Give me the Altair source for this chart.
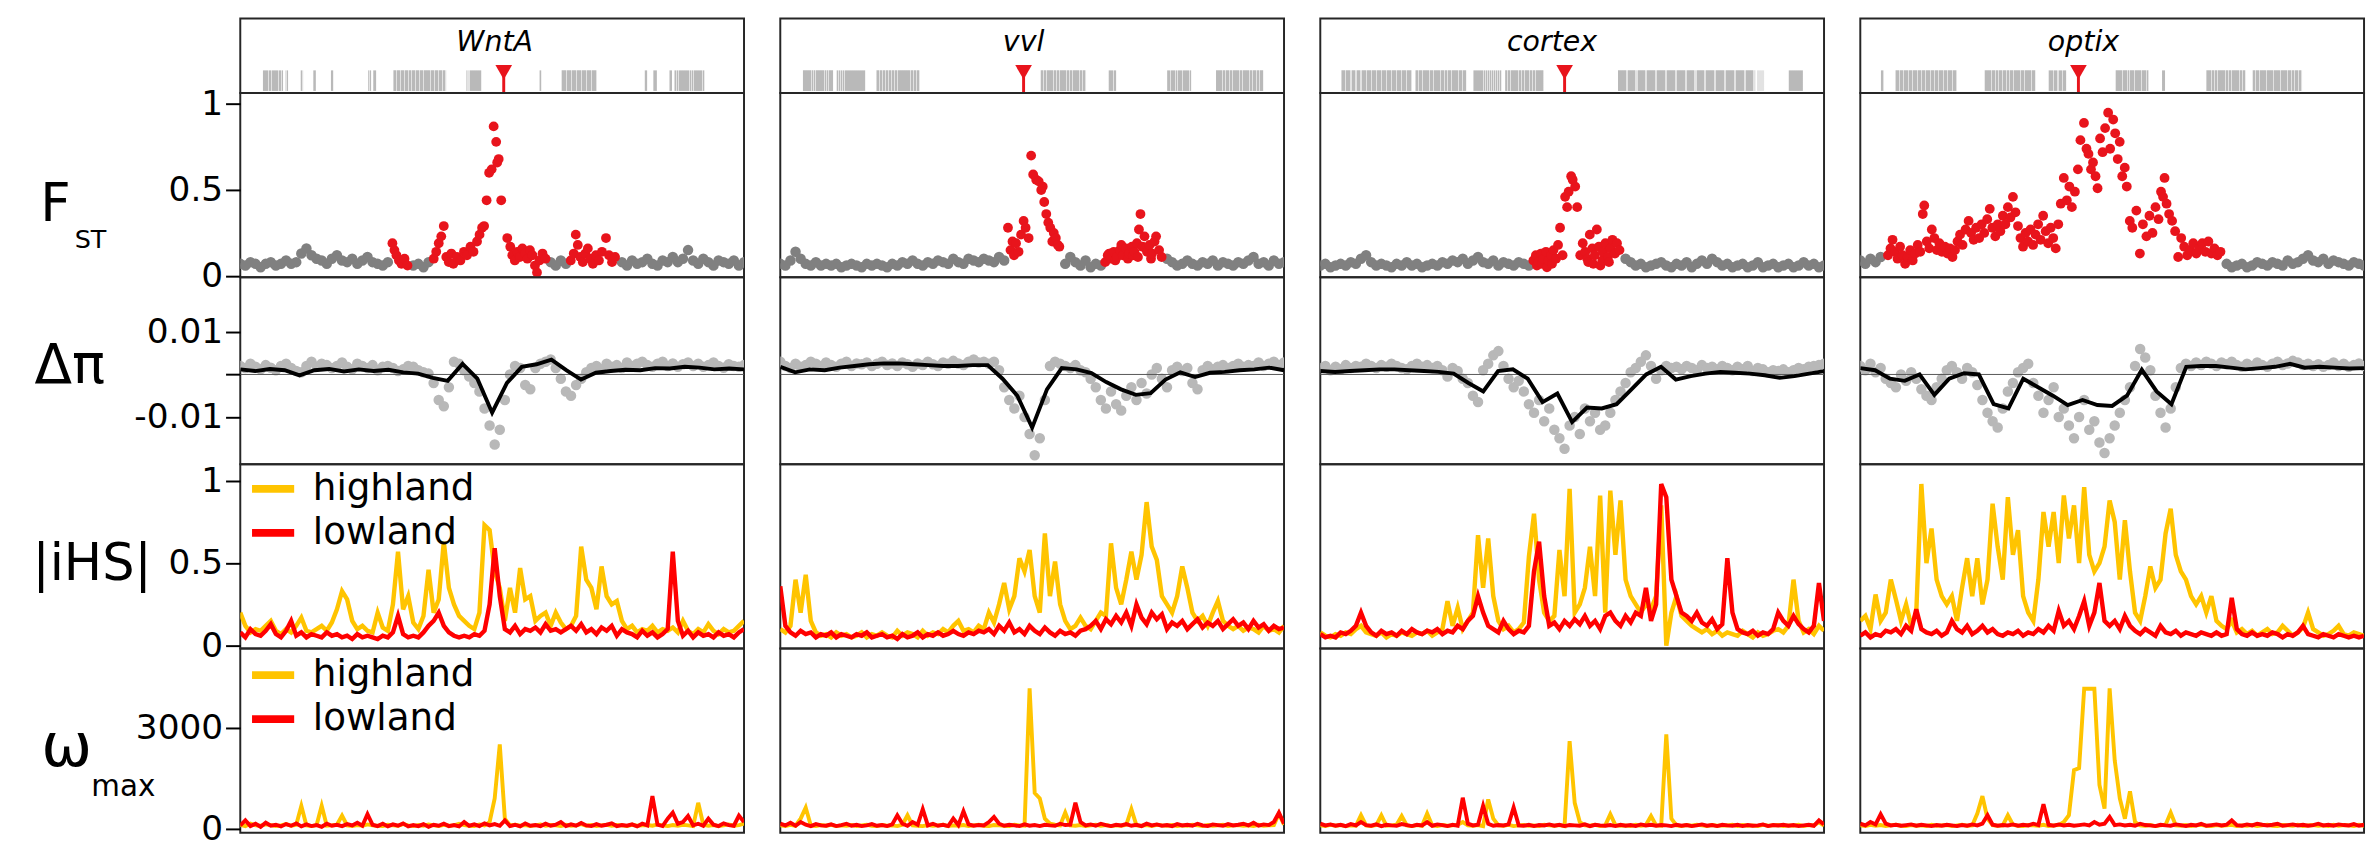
import altair as alt
import pandas as pd

# ---------------------------------------------------------------- data
GENES = ["WntA", "vvl", "cortex", "optix"]
GENE_POS = [52.3, 48.3, 48.5, 43.3]      # red marker position (% of window)
LABEL_POS = [50.5, 48.3, 46.0, 44.3]     # gene name position (% of window)

TRACKS_WNTA = [(4.5, 8.5), (9.0, 9.5), (12.0, 12.5), (14.5, 15.0), (18.0, 18.5), (25.4, 26.0), (26.4, 27.0),
               (30.4, 40.9), (44.9, 47.9), (59.3, 59.8), (63.8, 70.8), (80.3, 80.8), (82.0, 82.7), (85.2, 85.7), (86.2, 92.2)]
TRACKS_VVL = [(4.5, 10.5), (11.2, 16.9), (19.1, 27.7), (51.7, 60.7), (65.2, 66.7), (76.8, 81.6), (86.5, 95.9)]
TRACKS_CORTEX = [(4.2, 18.2), (18.9, 29.0), (30.4, 36.0), (36.7, 44.4), (59.1, 86.4), (86.7, 88.1), (93.0, 95.8)]
TRACKS_OPTIX = [(4.1, 4.7), (7.0, 19.2), (24.7, 34.8), (37.4, 40.9), (50.7, 57.3), (59.9, 60.5), (68.7, 76.5), (77.9, 87.7)]

# FST: grey windows on a regular grid, red (outlier) windows as (position, value)
FST_GREY_WNTA = [.07, .06, .08, .07, .05, .07, .08, .06, .07, .09,
                 .07, .08, .13, .16, .12, .10, .09, .07, .10, .12,
                 .09, .08, .10, .07, .09, .11, .08, .07, .06, .08,
                 .08, .07, .08, .07, .06, .07, .05, .08, .07, .08,
                 .08, .08, .08, .08, .08, .08, .08, .08, .08, .08,
                 .08, .08, .08, .08, .08, .08, .08, .08, .08, .08,
                 .07, .08, .06, .09, .07, .08, .08, .08, .08, .08,
                 .08, .08, .08, .08, .08, .08, .06, .09, .07, .08,
                 .10, .07, .06, .09, .08, .11, .08, .10, .15, .09,
                 .07, .10, .08, .06, .09, .08, .07, .09, .06, .08]
FST_GREY_VVL = [.07, .06, .09, .14, .10, .07, .06, .08, .06, .07,
                .06, .07, .05, .06, .07, .06, .05, .07, .06, .07,
                .06, .05, .07, .06, .08, .07, .09, .07, .06, .08,
                .07, .09, .08, .07, .10, .08, .07, .10, .09, .08,
                .10, .09, .08, .11, .09, .08, .08, .08, .08, .08,
                .08, .08, .08, .08, .08, .08, .07, .11, .08, .06,
                .09, .05, .07, .06, .08, .08, .08, .08, .08, .08,
                .08, .08, .08, .08, .08, .08, .10, .08, .06, .07,
                .09, .07, .06, .08, .07, .09, .06, .08, .07, .06,
                .08, .07, .09, .11, .07, .08, .06, .09, .07, .08]
FST_GREY_CORTEX = [.06, .07, .05, .06, .07, .06, .08, .07, .10, .12,
                   .08, .06, .07, .06, .05, .07, .06, .08, .06, .07,
                   .05, .06, .07, .06, .08, .07, .09, .08, .10, .07,
                   .09, .11, .08, .07, .09, .06, .08, .07, .06, .08,
                   .07, .06, .07, .07, .07, .07, .07, .07, .07, .07,
                   .07, .07, .07, .07, .07, .07, .07, .07, .07, .07,
                   .10, .08, .06, .07, .05, .06, .07, .08, .06, .05,
                   .07, .06, .08, .05, .07, .09, .07, .10, .08, .06,
                   .07, .05, .06, .07, .05, .06, .08, .05, .06, .07,
                   .05, .06, .07, .05, .06, .08, .06, .07, .05, .06]
FST_GREY_OPTIX = [.09, .07, .10, .08, .11, .08, .08, .08, .08, .08,
                  .08, .08, .08, .08, .08, .08, .08, .08, .08, .08,
                  .08, .08, .08, .08, .08, .08, .08, .08, .08, .08,
                  .08, .08, .08, .08, .08, .08, .08, .08, .08, .08,
                  .08, .08, .08, .08, .08, .08, .08, .08, .08, .08,
                  .08, .08, .08, .08, .08, .08, .08, .08, .08, .08,
                  .08, .08, .08, .08, .08, .08, .08, .08, .08, .08,
                  .08, .08, .07, .05, .06, .07, .05, .06, .08, .07,
                  .06, .08, .07, .06, .09, .07, .08, .10, .12, .09,
                  .08, .10, .07, .09, .08, .07, .06, .08, .07, .06]

RED_SPANS_WNTA = [(29.8, 33.6), (37.9, 61.2), (65.2, 74.9)]
RED_SPANS_VVL = [(44.6, 55.9), (64.0, 76.0)]
RED_SPANS_CORTEX = [(41.8, 59.8)]
RED_SPANS_OPTIX = [(5.0, 72.0)]

FST_RED_WNTA = [(30.2, .19), (30.6, .15), (31.0, .12), (31.5, .09), (32.0, .07), (32.6, .10), (33.2, .06),
                (38.4, .10), (38.9, .14), (39.4, .19), (39.9, .23), (40.4, .29), (40.9, .11), (41.4, .08), (41.9, .13),
                (42.3, .07), (43.0, .11), (43.7, .09), (44.4, .14), (45.0, .12), (45.7, .17), (46.3, .14), (47.0, .20),
                (47.5, .24), (48.0, .28), (48.4, .29), (48.9, .44), (49.4, .60), (49.9, .62), (50.3, .87), (50.8, .78),
                (51.0, .66), (51.3, .68), (51.8, .44), (53.0, .22), (53.6, .17), (54.0, .12), (54.5, .09), (55.0, .14),
                (55.5, .11), (56.0, .16), (56.5, .13), (57.0, .10), (57.5, .15), (58.0, .12), (58.5, .06), (58.9, .02),
                (59.4, .09), (60.0, .13), (60.6, .10), (65.6, .09), (66.2, .13), (66.6, .24), (67.0, .18), (67.5, .11),
                (68.0, .08), (68.5, .13), (69.0, .16), (69.5, .10), (70.0, .07), (70.6, .12), (71.2, .09), (71.8, .14),
                (72.6, .22), (73.2, .12), (73.8, .08), (74.4, .11)]
FST_RED_VVL = [(45.2, .28), (45.7, .15), (46.1, .20), (46.4, .12), (46.8, .19), (47.3, .14), (47.8, .24), (48.3, .32),
               (48.7, .28), (49.3, .22), (49.8, .70), (50.2, .59), (50.8, .56), (51.3, .55), (51.8, .50), (52.1, .52),
               (52.4, .43), (52.8, .36), (53.2, .31), (53.6, .28), (54.0, .20), (54.3, .25), (54.7, .22), (55.1, .18),
               (55.4, .17), (64.5, .08), (65.0, .12), (65.3, .13), (65.6, .10), (66.2, .14), (66.5, .09), (66.8, .11),
               (67.4, .15), (67.7, .18), (68.0, .12), (68.6, .16), (69.0, .10), (69.2, .13), (69.8, .17), (70.0, .12),
               (70.3, .14), (70.8, .19), (71.0, .11), (71.2, .27), (71.5, .36), (71.9, .17), (72.3, .23), (72.5, .16),
               (72.8, .14), (73.3, .18), (73.6, .10), (73.8, .13), (74.3, .20), (74.6, .23), (75.2, .15), (75.7, .11)]
FST_RED_CORTEX = [(42.3, .09), (42.8, .12), (43.0, .06), (43.3, .08), (43.8, .13), (44.0, .07), (44.3, .10), (44.8, .14),
                  (45.0, .05), (45.3, .09), (45.8, .12), (46.0, .07), (46.3, .15), (46.8, .10), (47.2, .18), (47.6, .28),
                  (48.1, .12), (48.6, .46), (49.0, .40), (49.3, .49), (49.8, .58), (50.1, .56), (50.6, .52), (51.0, .40),
                  (51.6, .12), (52.1, .19), (52.6, .14), (53.0, .10), (53.2, .08), (53.5, .24), (54.0, .16), (54.2, .07),
                  (54.5, .12), (54.9, .27), (55.3, .17), (55.6, .06), (56.0, .09), (56.1, .14), (56.6, .19), (57.1, .11),
                  (57.3, .08), (57.6, .16), (58.0, .21), (58.5, .13), (58.9, .19), (59.4, .15)]
FST_RED_OPTIX = [(5.5, .12), (6.0, .16), (6.4, .21), (6.9, .14), (7.4, .10), (7.9, .17), (8.4, .12), (8.9, .07),
                 (9.4, .11), (9.9, .15), (10.4, .09), (10.9, .13), (11.4, .18), (11.9, .14), (12.4, .36), (12.7, .41),
                 (13.2, .20), (13.7, .16), (14.2, .27), (14.7, .22), (15.2, .15), (15.7, .19), (16.2, .14), (16.8, .17),
                 (17.3, .13), (17.8, .16), (18.3, .11), (18.8, .15), (19.3, .20), (19.8, .24), (20.3, .18), (20.9, .27),
                 (21.5, .32), (22.0, .25), (22.5, .21), (23.0, .28), (23.6, .22), (24.1, .30), (24.6, .25), (25.2, .33),
                 (25.7, .39), (26.2, .28), (26.8, .23), (27.3, .30), (27.8, .26), (28.3, .35), (28.8, .30), (29.3, .40),
                 (29.8, .34), (30.3, .46), (30.8, .37), (31.3, .29), (31.8, .22), (32.3, .17), (32.8, .25), (33.3, .20),
                 (33.8, .27), (34.3, .18), (34.8, .24), (35.3, .30), (35.8, .21), (36.3, .35), (36.8, .26), (37.3, .19),
                 (37.8, .28), (38.3, .22), (38.8, .16), (39.3, .30), (39.8, .42), (40.4, .57), (41.0, .44), (41.5, .52),
                 (42.0, .40), (42.6, .49), (43.2, .62), (43.7, .79), (44.4, .89), (44.9, .74), (45.3, .71), (45.8, .62),
                 (46.2, .66), (46.7, .58), (47.1, .51), (47.6, .80), (48.1, .72), (48.6, .86), (49.2, .95), (49.6, .74),
                 (50.2, .91), (50.6, .83), (51.1, .68), (51.5, .78), (52.0, .58), (52.5, .63), (52.9, .52), (53.5, .32),
                 (54.0, .28), (54.8, .38), (55.5, .13), (56.1, .30), (56.8, .23), (57.4, .35), (58.0, .25), (58.6, .40),
                 (59.2, .33), (59.7, .49), (60.1, .46), (60.4, .57), (60.8, .42), (61.3, .36), (61.9, .32), (62.5, .26),
                 (63.1, .11), (63.7, .22), (64.3, .17), (64.9, .12), (65.5, .15), (66.1, .19), (66.7, .13), (67.3, .16),
                 (67.9, .19), (68.5, .14), (69.1, .20), (69.7, .13), (70.3, .16), (70.9, .12), (71.5, .14)]

# delta pi: windows (grey) and smoothed line (black)
DPI_GREY_WNTA = [.0020, .0015, .0025, .0018, .0012, .0022, .0016, .0010, .0020, .0025,
                 .0015, .0008, .0005, .0020, .0030, .0018, .0025, .0022, .0015, .0020,
                 .0028, .0018, .0012, .0025, .0020, .0015, .0022, .0010, .0018, .0020,
                 .0015, .0008, .0012, .0020, .0018, .0010, .0005, .0002, -.0020, -.0060,
                 -.0075, -.0030, .0030, .0025, .0010, -.0005, -.0020, -.0040, -.0080, -.0120,
                 -.0165, -.0130, -.0060, .0000, .0020, .0015, -.0025, -.0035, .0015, .0025,
                 .0030, .0035, .0015, -.0010, -.0040, -.0050, -.0025, -.0010, .0005, .0015,
                 .0020, .0012, .0025, .0018, .0022, .0015, .0028, .0020, .0025, .0030,
                 .0022, .0018, .0025, .0030, .0020, .0026, .0018, .0024, .0028, .0020,
                 .0025, .0018, .0022, .0028, .0020, .0016, .0024, .0020, .0018, .0022]
DPI_GREY_VVL = [.0030, .0020, .0015, .0025, .0018, .0022, .0030, .0025, .0020, .0028,
                .0022, .0018, .0025, .0030, .0020, .0026, .0024, .0028, .0020, .0025,
                .0030, .0022, .0026, .0020, .0028, .0024, .0018, .0026, .0022, .0030,
                .0024, .0020, .0028, .0025, .0032, .0026, .0022, .0030, .0035, .0028,
                .0030, .0025, .0030, .0010, -.0030, -.0060, -.0080, -.0050, -.0100, -.0140,
                -.0190, -.0150, -.0060, .0020, .0030, .0025, .0020, .0015, .0022, .0010,
                .0005, -.0010, -.0030, -.0060, -.0080, -.0040, -.0070, -.0085, -.0050, -.0030,
                -.0060, -.0020, -.0045, .0000, .0015, -.0010, -.0030, .0010, .0018, .0008,
                .0015, -.0020, -.0035, .0010, .0020, .0012, .0018, .0022, .0015, .0020,
                .0025, .0018, .0022, .0020, .0028, .0020, .0025, .0030, .0022, .0028]
DPI_GREY_CORTEX = [.0015, .0020, .0010, .0018, .0012, .0022, .0015, .0020, .0018, .0025,
                   .0020, .0015, .0022, .0018, .0025, .0020, .0015, .0012, .0020, .0025,
                   .0018, .0022, .0015, .0020, .0010, -.0005, .0015, .0008, -.0010, -.0020,
                   -.0050, -.0065, .0010, .0025, .0045, .0055, .0020, -.0010, -.0030, -.0015,
                   -.0040, -.0070, -.0090, -.0060, -.0110, -.0080, -.0130, -.0150, -.0175, -.0120,
                   -.0100, -.0140, -.0080, -.0110, -.0090, -.0130, -.0120, -.0090, -.0060, -.0040,
                   -.0020, .0005, .0015, .0030, .0045, .0020, -.0010, .0010, .0020, .0015,
                   .0018, .0012, .0020, .0015, .0010, .0022, .0015, .0018, .0012, .0020,
                   .0015, .0010, .0018, .0012, .0020, .0008, .0015, .0012, .0005, .0010,
                   .0008, .0012, .0005, .0010, .0015, .0012, .0018, .0020, .0022, .0025]
DPI_GREY_OPTIX = [.0020, .0010, .0025, .0005, .0015, -.0010, -.0020, -.0030, .0000, -.0015,
                  .0005, -.0010, -.0035, -.0050, -.0060, -.0030, -.0010, .0010, .0020, .0005,
                  -.0010, .0015, .0005, -.0025, -.0060, -.0090, -.0110, -.0125, -.0080, -.0040,
                  -.0020, .0005, .0015, .0025, -.0020, -.0050, -.0090, -.0060, -.0030, -.0100,
                  -.0080, -.0120, -.0150, -.0100, -.0060, -.0130, -.0110, -.0160, -.0185, -.0150,
                  -.0120, -.0090, -.0060, -.0030, .0020, .0060, .0040, .0010, -.0050, -.0090,
                  -.0125, -.0080, -.0030, .0015, .0025, .0020, .0028, .0022, .0030, .0025,
                  .0020, .0028, .0024, .0030, .0022, .0018, .0025, .0020, .0028, .0022,
                  .0018, .0025, .0030, .0022, .0026, .0032, .0028, .0022, .0025, .0020,
                  .0024, .0018, .0022, .0028, .0020, .0025, .0018, .0022, .0026, .0020]

DPI_LINE_WNTA = [.0012, .0008, .0013, .0010, -.0002, .0010, .0013, .0007, .0012, .0008, .0011, .0005,
                 .0002, -.0008, -.0015, .0025, -.0010, -.0090, -.0020, .0018, .0024, .0035, .0010, -.0012,
                 .0004, .0008, .0011, .0010, .0015, .0014, .0018, .0016, .0012, .0014, .0012]
DPI_LINE_VVL = [.0018, .0005, .0012, .0010, .0016, .0020, .0024, .0026, .0026, .0024, .0022, .0020,
                .0020, .0022, .0022, -.0010, -.0050, -.0125, -.0035, .0015, .0012, .0003, -.0018, -.0035,
                -.0048, -.0044, -.0012, .0005, -.0006, .0004, .0006, .0010, .0012, .0016, .0010]
DPI_LINE_CORTEX = [.0008, .0006, .0008, .0010, .0012, .0012, .0010, .0008, .0006, .0002, -.0020, -.0040,
                   .0008, .0012, -.0010, -.0065, -.0045, -.0112, -.0078, -.0080, -.0070, -.0035, .0000, .0018,
                   -.0012, -.0004, .0002, .0006, .0004, .0002, -.0002, -.0008, -.0004, .0002, .0008]
DPI_LINE_OPTIX = [.0015, .0010, -.0010, -.0015, .0000, -.0048, -.0010, .0003, .0000, -.0070, -.0080, -.0010,
                  -.0030, -.0050, -.0072, -.0060, -.0072, -.0074, -.0050, .0011, -.0040, -.0070, .0018, .0020,
                  .0020, .0016, .0012, .0015, .0018, .0025, .0016, .0018, .0016, .0014, .0015]

# |iHS|
IHS_HIGH_WNTA = [.20, .12, .08, .10, .09, .12, .15, .09, .07, .10,
                 .08, .12, .17, .09, .08, .10, .12, .09, .14, .22,
                 .33, .28, .15, .10, .12, .09, .08, .20, .11, .09,
                 .25, .57, .22, .30, .14, .10, .18, .46, .20, .28,
                 .63, .35, .25, .18, .15, .12, .10, .20, .73, .70,
                 .45, .35, .15, .35, .20, .47, .28, .30, .15, .18,
                 .20, .12, .20, .14, .10, .12, .18, .60, .40, .35,
                 .22, .48, .30, .25, .27, .15, .10, .12, .08, .10,
                 .09, .12, .08, .10, .09, .11, .08, .15, .09, .07,
                 .10, .08, .13, .09, .07, .10, .08, .09, .12, .15]
IHS_LOW_WNTA = [.08, .05, .10, .07, .06, .09, .13, .07, .05, .09,
                .15, .06, .08, .05, .07, .06, .05, .08, .06, .07,
                .05, .06, .04, .07, .05, .06, .05, .04, .06, .05,
                .08, .18, .07, .05, .06, .05, .08, .12, .15, .20,
                .12, .08, .06, .05, .06, .05, .07, .06, .09, .25,
                .59, .30, .10, .08, .12, .07, .10, .09, .11, .08,
                .13, .09, .10, .08, .10, .12, .09, .13, .08, .10,
                .07, .11, .09, .12, .06, .10, .08, .07, .05, .09,
                .06, .08, .05, .07, .10, .57, .15, .06, .09, .05,
                .08, .06, .07, .05, .08, .06, .07, .05, .08, .10]
IHS_HIGH_VVL = [.10, .08, .12, .40, .20, .43, .15, .08, .06, .07,
                .05, .08, .06, .07, .05, .06, .08, .05, .07, .06,
                .08, .06, .05, .09, .06, .08, .07, .05, .09, .06,
                .08, .07, .10, .08, .12, .15, .09, .10, .08, .12,
                .10, .20, .14, .25, .38, .22, .30, .53, .45, .58,
                .30, .20, .68, .30, .51, .25, .15, .10, .12, .17,
                .12, .10, .15, .20, .18, .62, .35, .25, .40, .57,
                .40, .55, .87, .60, .52, .30, .25, .20, .30, .48,
                .35, .20, .15, .18, .12, .20, .27, .15, .12, .10,
                .12, .09, .11, .10, .08, .12, .09, .10, .08, .12]
IHS_LOW_VVL = [.36, .12, .08, .06, .09, .07, .08, .05, .07, .06,
               .08, .05, .07, .06, .05, .07, .06, .08, .05, .06,
               .07, .05, .06, .04, .07, .05, .06, .08, .05, .07,
               .06, .08, .06, .07, .09, .07, .06, .08, .07, .09,
               .08, .10, .07, .12, .09, .14, .08, .10, .07, .12,
               .09, .07, .11, .08, .06, .09, .07, .08, .06, .09,
               .10, .12, .15, .10, .16, .13, .18, .14, .20, .12,
               .25, .17, .13, .20, .16, .19, .10, .14, .12, .15,
               .10, .13, .16, .11, .14, .12, .15, .10, .13, .16,
               .12, .14, .10, .15, .11, .13, .09, .12, .10, .11]
IHS_HIGH_CORTEX = [.08, .06, .05, .07, .06, .08, .07, .10, .12, .08,
                   .07, .06, .08, .05, .07, .06, .08, .07, .06, .08,
                   .07, .09, .06, .08, .10, .27, .12, .23, .10, .15,
                   .20, .67, .35, .65, .30, .15, .10, .12, .08, .10,
                   .14, .54, .80, .40, .20, .15, .18, .58, .30, .95,
                   .20, .25, .35, .60, .30, .91, .20, .94, .55, .88,
                   .40, .30, .25, .20, .25, .22, .30, .85, .00, .20,
                   .30, .18, .15, .12, .10, .08, .10, .07, .09, .06,
                   .08, .07, .06, .09, .07, .05, .08, .06, .07, .09,
                   .10, .08, .12, .40, .15, .08, .10, .07, .12, .09]
IHS_LOW_CORTEX = [.07, .05, .06, .05, .08, .07, .09, .12, .20, .12,
                  .08, .06, .09, .07, .08, .06, .09, .07, .10, .08,
                  .07, .09, .08, .10, .07, .09, .08, .12, .10, .15,
                  .18, .30, .20, .12, .10, .08, .15, .10, .07, .09,
                  .08, .12, .45, .63, .30, .12, .14, .10, .15, .12,
                  .16, .13, .18, .12, .15, .10, .18, .20, .15, .12,
                  .18, .14, .20, .18, .35, .15, .25, .98, .90, .40,
                  .30, .20, .18, .15, .20, .14, .12, .16, .10, .13,
                  .53, .20, .10, .08, .07, .09, .06, .08, .07, .10,
                  .20, .15, .12, .18, .13, .10, .08, .12, .38, .15]
IHS_HIGH_OPTIX = [.15, .18, .10, .31, .15, .20, .40, .28, .15, .25,
                  .12, .20, .98, .50, .71, .40, .30, .25, .30, .15,
                  .35, .53, .30, .53, .25, .40, .86, .60, .40, .90,
                  .55, .70, .30, .20, .15, .40, .81, .60, .81, .50,
                  .91, .65, .85, .50, .96, .55, .45, .50, .60, .88,
                  .75, .40, .76, .45, .20, .15, .30, .48, .35, .40,
                  .68, .83, .55, .45, .40, .30, .25, .30, .20, .30,
                  .15, .12, .10, .15, .08, .10, .07, .09, .06, .08,
                  .10, .07, .08, .12, .09, .06, .08, .11, .20, .10,
                  .08, .06, .07, .09, .12, .07, .06, .08, .07, .06]
IHS_LOW_OPTIX = [.06, .08, .05, .07, .06, .09, .08, .10, .07, .12,
                 .09, .22, .10, .08, .07, .09, .06, .08, .15, .10,
                 .08, .12, .07, .09, .12, .08, .10, .07, .06, .08,
                 .07, .09, .06, .08, .07, .10, .08, .12, .09, .21,
                 .12, .15, .10, .18, .27, .12, .20, .38, .15, .12,
                 .15, .10, .18, .12, .09, .07, .10, .08, .06, .12,
                 .08, .07, .09, .06, .08, .07, .06, .08, .07, .06,
                 .08, .06, .07, .29, .10, .07, .06, .08, .06, .07,
                 .06, .08, .07, .05, .07, .06, .08, .12, .07, .06,
                 .05, .07, .06, .05, .07, .06, .05, .06, .05, .06]

# omega_max
OMEGA_HIGH_WNTA = [120, 80, 150, 100, 90, 130, 110, 80, 100, 140,
                   90, 120, 680, 100, 80, 110, 680, 90, 100, 120,
                   390, 100, 80, 110, 90, 130, 100, 90, 80, 120,
                   100, 90, 140, 100, 80, 110, 90, 130, 100, 80,
                   120, 90, 100, 150, 110, 90, 80, 130, 100, 200,
                   900, 2500, 300, 100, 120, 90, 110, 80, 100, 130,
                   90, 110, 100, 80, 120, 90, 100, 140, 90, 110,
                   80, 100, 120, 90, 110, 100, 80, 120, 90, 100,
                   110, 90, 130, 100, 80, 110, 90, 120, 100, 80,
                   770, 120, 90, 110, 80, 100, 130, 90, 110, 150]
OMEGA_LOW_WNTA = [100, 250, 80, 150, 60, 180, 90, 120, 70, 140,
                  90, 160, 70, 130, 80, 110, 60, 150, 90, 120,
                  80, 140, 100, 180, 90, 435, 120, 80, 150, 70,
                  130, 90, 160, 70, 110, 80, 140, 60, 120, 90,
                  150, 80, 110, 70, 200, 90, 130, 80, 160, 100,
                  140, 90, 250, 80, 120, 70, 160, 90, 110, 80,
                  150, 90, 120, 200, 80, 130, 90, 170, 100, 80,
                  140, 90, 120, 160, 80, 110, 90, 130, 70, 150,
                  100, 970, 120, 80, 300, 480, 150, 200, 380, 100,
                  150, 90, 300, 120, 80, 160, 110, 90, 390, 200]
OMEGA_HIGH_VVL = [100, 80, 120, 90, 300, 630, 100, 80, 110, 90,
                  120, 80, 100, 90, 110, 80, 100, 120, 90, 80,
                  110, 90, 100, 80, 120, 400, 100, 90, 80, 110,
                  90, 100, 120, 80, 100, 90, 110, 80, 100, 120,
                  90, 80, 110, 100, 90, 80, 120, 100, 90, 4160,
                  1060, 900, 300, 150, 120, 100, 480, 100, 90, 110,
                  80, 100, 120, 90, 110, 80, 100, 90, 120, 580,
                  100, 90, 110, 80, 120, 100, 90, 110, 80, 100,
                  90, 120, 100, 80, 110, 90, 100, 120, 80, 100,
                  110, 90, 100, 80, 120, 90, 100, 110, 450, 120]
OMEGA_LOW_VVL = [150, 100, 180, 90, 200, 120, 80, 140, 100, 90,
                 130, 80, 110, 150, 90, 120, 80, 100, 140, 90,
                 110, 80, 130, 400, 150, 90, 200, 120, 580, 100,
                 150, 90, 120, 80, 300, 110, 520, 130, 90, 110,
                 100, 200, 350, 150, 90, 120, 100, 80, 130, 90,
                 110, 80, 120, 100, 90, 150, 110, 120, 770, 200,
                 100, 130, 90, 150, 110, 80, 120, 100, 140, 90,
                 120, 80, 150, 100, 130, 90, 110, 80, 140, 100,
                 120, 90, 150, 100, 80, 130, 110, 90, 140, 100,
                 120, 150, 100, 180, 90, 130, 110, 200, 480, 150]
OMEGA_HIGH_CORTEX = [100, 80, 120, 90, 110, 80, 100, 90, 400, 100,
                     80, 110, 400, 90, 100, 120, 380, 100, 80, 110,
                     90, 450, 100, 80, 110, 90, 100, 120, 200, 100,
                     90, 110, 80, 870, 300, 100, 90, 120, 80, 100,
                     110, 90, 100, 80, 120, 100, 90, 110, 80, 2600,
                     770, 200, 100, 90, 120, 80, 100, 430, 110, 90,
                     100, 80, 120, 90, 110, 380, 100, 90, 2800, 300,
                     100, 80, 110, 90, 120, 100, 80, 110, 90, 100,
                     100, 120, 80, 110, 90, 100, 80, 120, 90, 100,
                     110, 80, 100, 90, 120, 80, 110, 100, 200, 90]
OMEGA_LOW_CORTEX = [150, 100, 130, 90, 120, 80, 140, 100, 200, 110,
                    90, 130, 80, 120, 100, 90, 140, 110, 80, 120,
                    100, 200, 90, 130, 110, 80, 120, 90, 920, 150,
                    100, 120, 680, 150, 90, 110, 100, 130, 630, 100,
                    90, 120, 80, 110, 100, 130, 90, 120, 80, 110,
                    100, 90, 130, 80, 120, 100, 90, 110, 80, 120,
                    90, 110, 80, 130, 100, 120, 90, 110, 100, 80,
                    120, 90, 110, 80, 100, 130, 90, 110, 80, 120,
                    100, 90, 120, 80, 110, 90, 100, 130, 80, 110,
                    100, 120, 90, 110, 80, 100, 120, 90, 250, 130]
OMEGA_HIGH_OPTIX = [100, 80, 120, 90, 110, 80, 100, 120, 90, 80,
                    110, 90, 100, 80, 120, 90, 100, 110, 80, 100,
                    120, 90, 100, 450, 970, 300, 110, 90, 100, 400,
                    120, 90, 80, 110, 100, 90, 120, 80, 100, 110,
                    200, 400, 1740, 1800, 4150, 4150, 4150, 1300, 600, 4160,
                    2030, 900, 300, 1110, 200, 100, 90, 110, 80, 100,
                    120, 480, 100, 90, 110, 80, 100, 120, 90, 80,
                    110, 90, 100, 120, 80, 100, 90, 110, 80, 100,
                    120, 90, 80, 110, 100, 90, 120, 80, 100, 110,
                    90, 100, 80, 120, 90, 110, 100, 80, 120, 90]
OMEGA_LOW_OPTIX = [150, 100, 200, 130, 430, 150, 100, 120, 90, 110,
                   130, 90, 120, 100, 80, 110, 90, 120, 100, 80,
                   110, 90, 130, 100, 150, 400, 120, 90, 110, 100,
                   130, 90, 120, 100, 150, 110, 730, 120, 90, 130,
                   100, 120, 90, 110, 130, 100, 200, 120, 150, 350,
                   110, 130, 100, 120, 90, 150, 110, 100, 80, 120,
                   100, 90, 130, 110, 80, 120, 100, 150, 90, 110,
                   130, 100, 120, 250, 110, 90, 130, 100, 150, 120,
                   100, 120, 150, 90, 110, 130, 100, 120, 90, 110,
                   150, 100, 120, 90, 130, 110, 100, 140, 90, 120]

POPS = ["highland", "lowland"]

TRACKS = [TRACKS_WNTA, TRACKS_VVL, TRACKS_CORTEX, TRACKS_OPTIX]
FST_GREY = [FST_GREY_WNTA, FST_GREY_VVL, FST_GREY_CORTEX, FST_GREY_OPTIX]
RED_SPANS = [RED_SPANS_WNTA, RED_SPANS_VVL, RED_SPANS_CORTEX, RED_SPANS_OPTIX]
FST_RED = [FST_RED_WNTA, FST_RED_VVL, FST_RED_CORTEX, FST_RED_OPTIX]
DPI_GREY = [DPI_GREY_WNTA, DPI_GREY_VVL, DPI_GREY_CORTEX, DPI_GREY_OPTIX]
DPI_LINE = [DPI_LINE_WNTA, DPI_LINE_VVL, DPI_LINE_CORTEX, DPI_LINE_OPTIX]
IHS_HIGH = [IHS_HIGH_WNTA, IHS_HIGH_VVL, IHS_HIGH_CORTEX, IHS_HIGH_OPTIX]
IHS_LOW = [IHS_LOW_WNTA, IHS_LOW_VVL, IHS_LOW_CORTEX, IHS_LOW_OPTIX]
OMEGA_HIGH = [OMEGA_HIGH_WNTA, OMEGA_HIGH_VVL, OMEGA_HIGH_CORTEX, OMEGA_HIGH_OPTIX]
OMEGA_LOW = [OMEGA_LOW_WNTA, OMEGA_LOW_VVL, OMEGA_LOW_CORTEX, OMEGA_LOW_OPTIX]

# ---------------------------------------------------------------- style
W = 514
H_STRIP, H_FST, H_DPI, H_IHS, H_OMEGA = 76, 188, 191, 188, 188
FST_DOMAIN = [-0.0074, 1.065]
DPI_DOMAIN = [-0.02115, 0.0229]
IHS_DOMAIN = [-0.018, 1.099]
OMEGA_DOMAIN = [-120, 5340]

YELLOW = "#ffc400"
RED_LINE = "#ff0000"
RED_PT = "#e8141c"
GREY_PT = "#808080"
LIGHT_GREY = "#b8b8b8"
FONT = "DejaVu Sans"

# barcode-like fill for the gene tracks (alternating stripe stops)
_stops = []
for k in range(14):
    a, b = k / 14, (k + 0.78) / 14
    _stops += [alt.GradientStop(offset=a, color="#b9b9b9"), alt.GradientStop(offset=b, color="#b9b9b9"),
               alt.GradientStop(offset=b, color="#e2e2e2"), alt.GradientStop(offset=(k + 1) / 14, color="#e2e2e2")]
TRACK_FILL = alt.LinearGradient(gradient="linear", x1=0, x2=1, y1=0, y2=0, stops=_stops)

XS = alt.Scale(domain=[0, 100], nice=False, zero=False)


def X(field="x"):
    return alt.X(f"{field}:Q", scale=XS, axis=None)


AXIS_STYLE = dict(title=None, domain=False, grid=False, ticks=True, tickSize=15, tickWidth=2,
                  tickColor="black", labelFont=FONT, labelFontSize=35, labelColor="black", labelPadding=3)


def Y(domain, first, values=None, fmt=None, label_expr=None):
    ax = None
    if first:
        kw = dict(AXIS_STYLE, values=values)
        if fmt:
            kw["format"] = fmt
        if label_expr:
            kw["labelExpr"] = label_expr
        ax = alt.Axis(**kw)
    return alt.Y("y:Q", scale=alt.Scale(domain=domain, nice=False, zero=False), axis=ax, title=None)


def grid_df(vals):
    n = len(vals)
    return pd.DataFrame({"x": [i * 100 / (n - 1) for i in range(n)], "y": vals})


def label(text, x, y, size, style="normal"):
    return alt.Chart(pd.DataFrame({"t": [text]})).mark_text(
        font=FONT, fontSize=size, fontStyle=style, align="left", baseline="alphabetic", color="black"
    ).encode(x=alt.value(x), y=alt.value(y), text="t:N")


def legend(y0):
    df = pd.DataFrame({"pop": POPS, "k": list(range(len(POPS)))})
    df["yp"] = y0 + 45 * df["k"]
    cs = alt.Scale(domain=POPS, range=[YELLOW, RED_LINE])
    dash = alt.Chart(df).mark_rule(strokeWidth=8).encode(
        x=alt.value(12), x2=alt.value(55), y=alt.Y("yp:Q", scale=None),
        color=alt.Color("pop:N", scale=cs, legend=None))
    txt = alt.Chart(df).mark_text(font=FONT, fontSize=38, align="left", baseline="middle", color="black").encode(
        x=alt.value(74), y=alt.Y("yp:Q", scale=None), text="pop:N")
    return [dash, txt]


def strip_chart(p, first):
    tr = pd.DataFrame(TRACKS[p], columns=["x", "x2"])
    rects = alt.Chart(tr).mark_rect(color=TRACK_FILL).encode(x=X(), x2="x2:Q", y=alt.value(53), y2=alt.value(74))
    g = pd.DataFrame({"x": [GENE_POS[p]]})
    stem = alt.Chart(g).mark_rule(color=RED_PT, strokeWidth=3).encode(x=X(), y=alt.value(55), y2=alt.value(76))
    tri = alt.Chart(g).mark_point(shape="triangle-down", filled=True, color=RED_PT, size=289, opacity=1).encode(
        x=X(), y=alt.value(55))
    lab = alt.Chart(pd.DataFrame({"x": [LABEL_POS[p]], "t": [GENES[p]]})).mark_text(
        font=FONT, fontStyle="italic", fontSize=29, baseline="middle", align="center", color="black"
    ).encode(x=X(), y=alt.value(24), text="t:N")
    layers = [rects, stem, tri, lab]
    if first:
        anchor = alt.Chart(g).mark_rule(color="white", strokeWidth=1).encode(
            x=alt.value(-235), y=alt.value(2), y2=alt.value(6))
        layers.append(anchor)
    return alt.layer(*layers).properties(width=W, height=H_STRIP)


def fst_chart(p, first):
    gdf = grid_df(FST_GREY[p])
    keep = [not any(a <= xv <= b for a, b in RED_SPANS[p]) for xv in gdf["x"]]
    gdf = gdf[keep]
    rdf = pd.DataFrame(FST_RED[p], columns=["x", "y"])
    y = Y(FST_DOMAIN, first, [0, 0.5, 1], "~g")
    grey = alt.Chart(gdf).mark_circle(color=GREY_PT, size=115, opacity=1, clip=True).encode(x=X(), y=y)
    red = alt.Chart(rdf).mark_circle(color=RED_PT, size=100, opacity=1, clip=True).encode(x=X(), y=y)
    layers = [grey, red]
    if first:
        layers += [label("F", -204, 131, 54), label("ST", -169, 158, 26)]
    return alt.layer(*layers).properties(width=W, height=H_FST)


def dpi_chart(p, first):
    expr = "datum.value == 0 ? '' : (datum.value < 0 ? '-' : '') + format(abs(datum.value), '.2f')"
    y = Y(DPI_DOMAIN, first, [-0.01, 0, 0.01], None, expr)
    grey = alt.Chart(grid_df(DPI_GREY[p])).mark_circle(color=LIGHT_GREY, size=115, opacity=1, clip=True).encode(
        x=X(), y=y)
    zero = alt.Chart(pd.DataFrame({"y": [0.0]})).mark_rule(color="#555555", strokeWidth=1).encode(y=y)
    line = alt.Chart(grid_df(DPI_LINE[p])).mark_line(color="black", strokeWidth=4, clip=True).encode(x=X(), y=y)
    layers = [grey, zero, line]
    if first:
        layers += [label("\u0394\u03c0", -210, 108, 56)]
    return alt.layer(*layers).properties(width=W, height=H_DPI)


def pair_chart(high, low, domain, height, values, fmt, first, title_layers, legend_y, sw):
    y = Y(domain, first, values, fmt)
    hl = alt.Chart(grid_df(high)).mark_line(color=YELLOW, strokeWidth=sw, clip=True).encode(x=X(), y=y)
    ll = alt.Chart(grid_df(low)).mark_line(color=RED_LINE, strokeWidth=sw, clip=True).encode(x=X(), y=y)
    layers = [hl, ll]
    if first:
        layers += title_layers + legend(legend_y)
    return alt.layer(*layers).properties(width=W, height=height)


columns = []
for p in range(4):
    first = p == 0
    rows = [
        strip_chart(p, first),
        fst_chart(p, first),
        dpi_chart(p, first),
        pair_chart(IHS_HIGH[p], IHS_LOW[p], IHS_DOMAIN, H_IHS, [0, 0.5, 1], "~g", first,
                   [label("|iHS|", -212, 118, 52)], 25, 4.5),
        pair_chart(OMEGA_HIGH[p], OMEGA_LOW[p], OMEGA_DOMAIN, H_OMEGA, [0, 3000], "d", first,
                   [label("\u03c9", -203, 120, 62), label("max", -152, 150, 30)], 27, 4),
    ]
    columns.append(alt.vconcat(*rows, spacing=0, bounds="flush"))

chart = alt.hconcat(*columns, spacing=33).properties(
    padding={"left": 0, "top": 1, "right": 0, "bottom": 0}, background="white"
).configure_view(stroke="#262626", strokeWidth=2)

chart.save("out.html", embed_options={"renderer": "svg", "actions": False})
